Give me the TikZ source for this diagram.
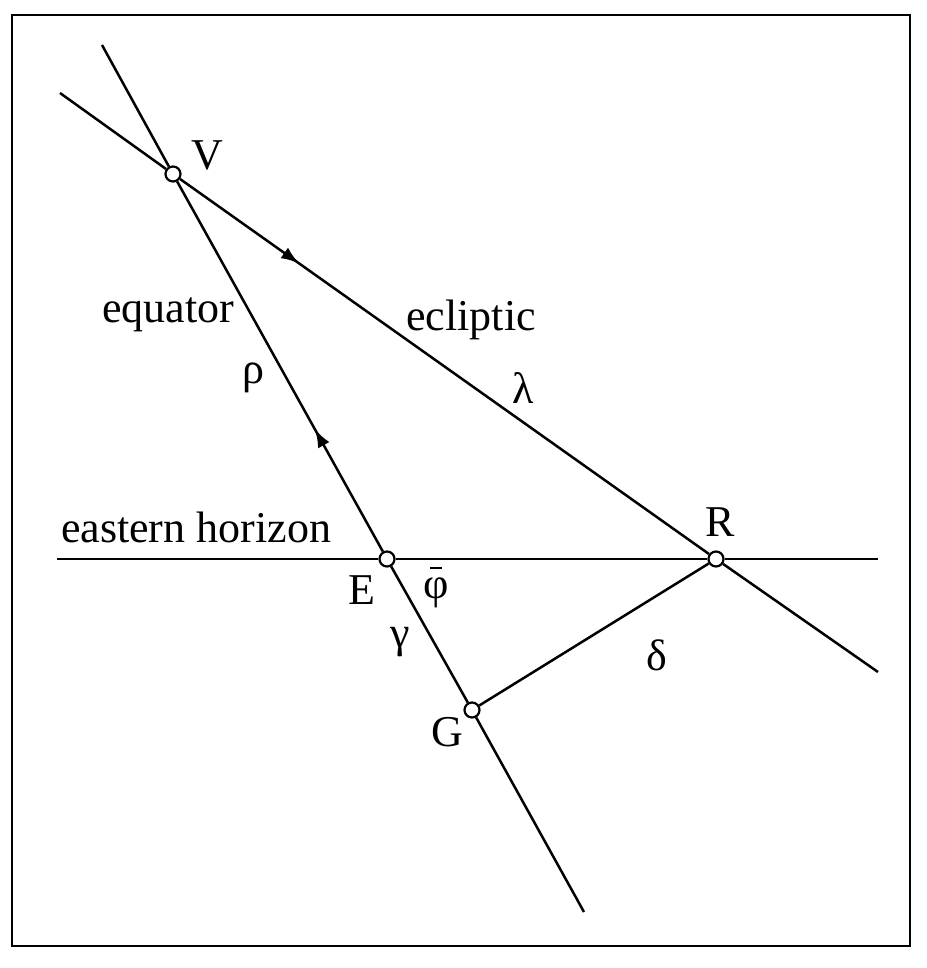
\documentclass[tikz,border=0pt]{standalone}
\usepackage{fontspec}
\setmainfont{Liberation Serif}
\usetikzlibrary{decorations.markings,arrows.meta}
\begin{document}
\begin{tikzpicture}[x=0.5pt,y=-0.5pt, line width=1.25pt,
  pt/.style={circle,draw,fill=white,inner sep=0pt,minimum size=7.5pt,line width=1.1pt},
  lbl/.style={font=\fontsize{22}{26}\selectfont, inner sep=0pt, anchor=base},
  arr/.style={postaction={decorate},decoration={markings,mark=at position #1 with {\arrow{Latex[length=9pt,width=6.5pt]}}}}]
\useasboundingbox (0,0) rectangle (926,968);
\draw[line width=1.3pt] (12,15) rectangle (910,946);
% points
\node[pt] (V) at (173,174) {};
\node[pt] (E) at (387,559) {};
\node[pt] (G) at (472,710) {};
\node[pt] (R) at (716,559) {};
\coordinate (eqA) at (102,45);
\coordinate (eqB) at (584,912);
\coordinate (ecA) at (60,93);
\coordinate (ecB) at (878,672);
\coordinate (hoA) at (57,559);
\coordinate (hoB) at (878,559);
% lines
\draw (eqA) -- (V);
\draw[arr=0.33] (E) -- (V);
\draw (E) -- (G) -- (eqB);
\draw (ecA) -- (V);
\draw[arr=0.225] (V) -- (R);
\draw (R) -- (ecB);
\draw (hoA) -- (E) -- (R) -- (hoB);
\draw (G) -- (R);
% labels
\node[lbl] (lV) at (207,170) {V};
\node[lbl] (leq) at (168,322) {equator};
\node[lbl] (lec) at (471,330) {ecliptic};
\node[lbl] (lrho) at (253,383) {ρ};
\node[lbl] (llam) at (523,403) {λ};
\node[lbl] (lhor) at (196,542) {eastern horizon};
\node[lbl] (lR) at (720,536) {R};
\node[lbl] (lE) at (362,604) {E};
\node[lbl] (lphi) at (436,598) {\ooalign{φ\cr\hidewidth\raisebox{0.66em}{\rule{0.28em}{0.045em}}\hidewidth}};
\node[lbl] (lgam) at (400,647) {γ};
\node[lbl] (ldel) at (657,670) {δ};
\node[lbl] (lG) at (447,746) {G};
\end{tikzpicture}
\end{document}
